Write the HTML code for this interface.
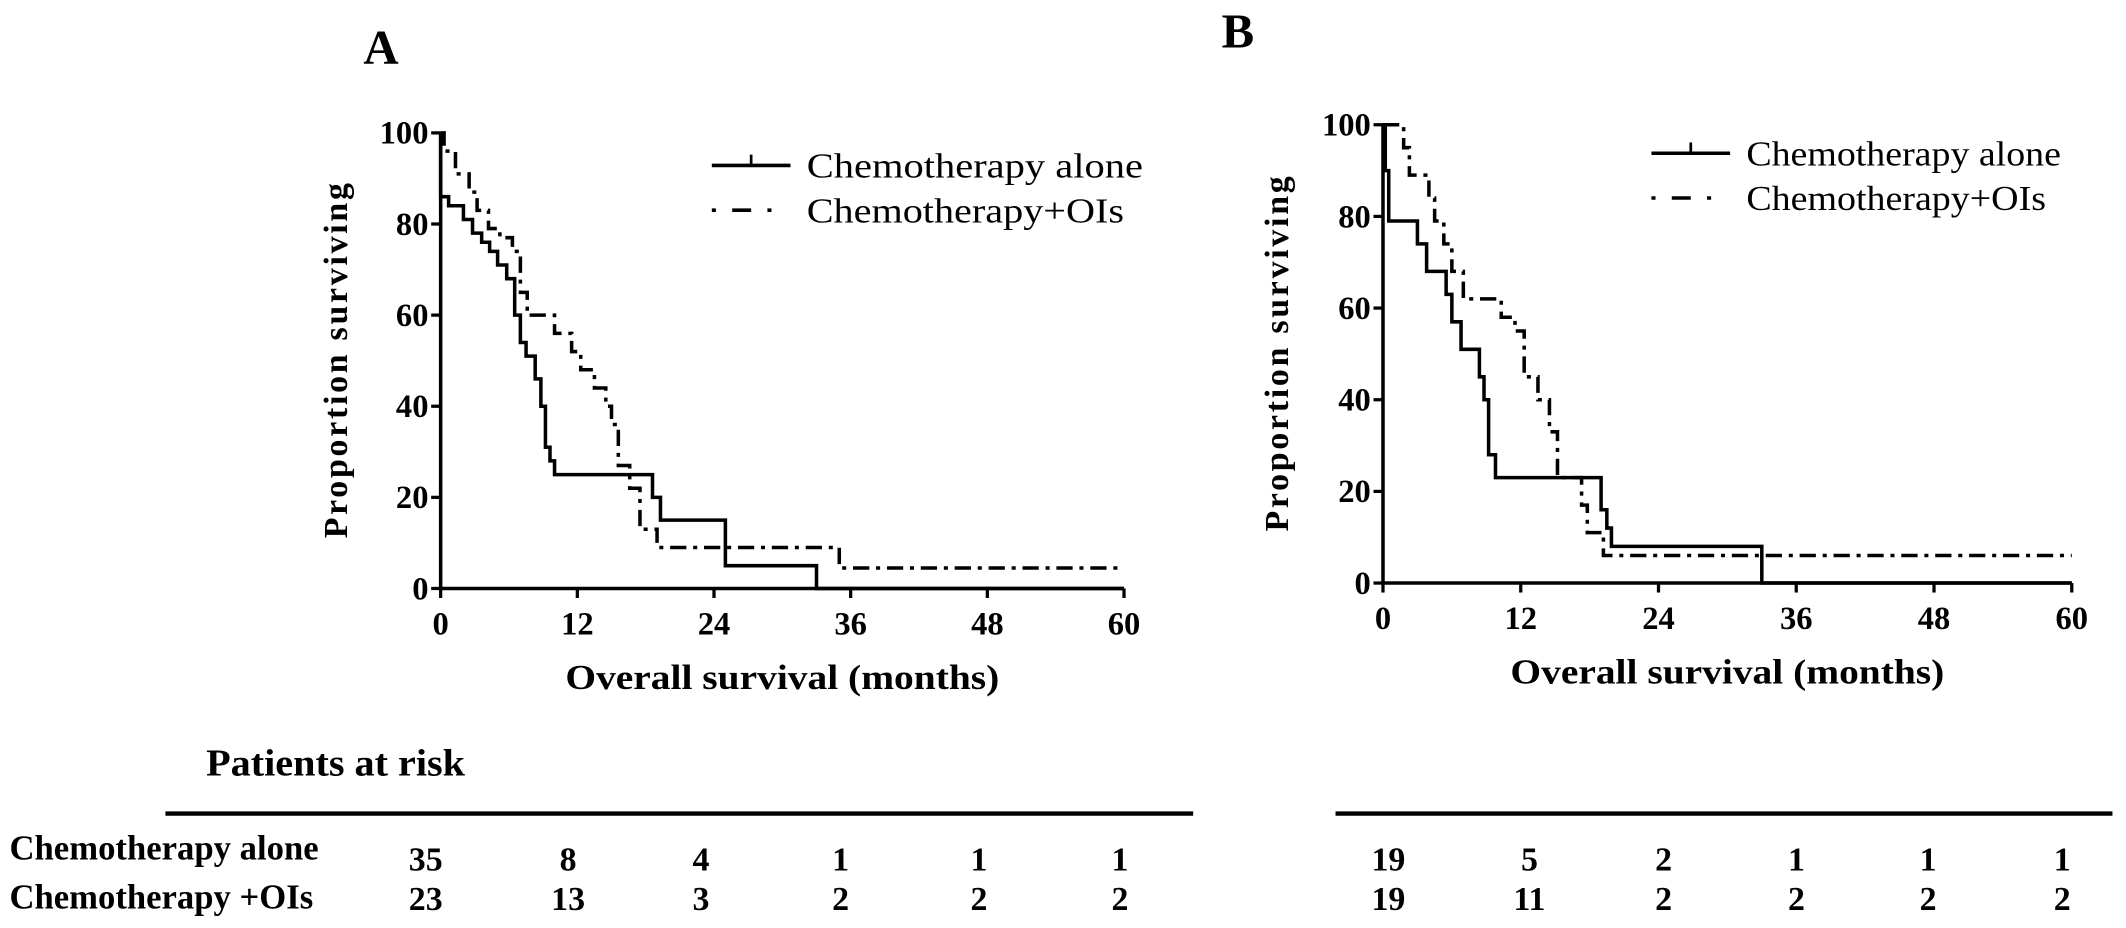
<!DOCTYPE html>
<html><head><meta charset="utf-8"><style>
html,body{margin:0;padding:0;background:#fff;}
svg{display:block;}
text{font-family:"Liberation Serif",serif;fill:#000;}
.b{font-weight:bold;}
</style></head><body>
<svg id="fig" width="2126" height="928" viewBox="0 0 1568 684.4" xmlns="http://www.w3.org/2000/svg">
<g id="root"></g>
</svg>
<script>
// Panel A data (months, percent surviving)
const aAloneT = [0,0.7,2,2.8,3.6,4.3,5,5.8,6.5,7,7.5,8.3,8.8,9.2,9.6,10,12.3,18.6,19.3,25,33];
const aAloneS = [100,86,84,81,78,76,74,71,68,60,54,51,46,40,31,28,25,25,20,15,5,0];
const aOIsT = [0.3,1.3,2.5,3.2,4.2,5.2,6.3,7,7.6,10,11.5,12.3,13.5,14.5,15,15.6,16.6,17.5,19,35];
const aOIsS = [100,96,91,87,83,79,77,74,65,60,56,52,48,44,40,36,27,22,13,9,4.5];
// Panel B data
const bAloneT = [0.2,0.5,3,3.8,5.5,6,6.8,8.4,8.8,9.2,9.8,19,19.5,19.9,33];
const bAloneS = [100,90,79,74,68,63,57,51,45,40,28,23,16,12,8,0];
const bOIsT = [1.8,2.3,4,4.5,5.3,6,7,10.3,11.5,12.3,13.5,14.5,15.2,17.3,17.8,19.2];
const bOIsS = [100,95,89,84,79,74,68,62,58,55,45,40,33,23,17,11,6];
const xTicks = [0,12,24,36,48,60];
const yTicks = [0,20,40,60,80,100];
const riskAloneA = [35,8,4,1,1,1];
const riskOIsA = [23,13,3,2,2,2];
const riskAloneB = [19,5,2,1,1,1];
const riskOIsB = [19,11,2,2,2,2];

const NS='http://www.w3.org/2000/svg';
const root=document.getElementById('root');
function mk(tag,attrs,parent){const e=document.createElementNS(NS,tag);for(const k in attrs)e.setAttribute(k,attrs[k]);(parent||root).appendChild(e);return e;}
function txt(s,attrs,parent){const e=mk('text',attrs,parent);e.textContent=s;return e;}

function panel(cfg){
  const g=mk('g',{});
  
  
  const sx=v=>cfg.x0+(cfg.x1-cfg.x0)*v/60;
  const sy=v=>cfg.y0+(cfg.y1-cfg.y0)*v/100;
  const ax=mk('path',{d:`M${sx(0)},${sy(100)} V${sy(0)} H${sx(60)}`,fill:'none',stroke:'#000','stroke-width':2.6},g);
  
  
  xTicks.forEach(t=>{
    mk('line',{x1:sx(t),x2:sx(t),y1:sy(0),y2:sy(0)+7,stroke:'#000','stroke-width':2.4},g);
    const l=txt(String(t),{x:sx(t),y:sy(0)+34,'text-anchor':'middle','font-size':24,class:'b'},g);
    
    
  });
  yTicks.forEach(t=>{
    mk('line',{x1:sx(0)-7,x2:sx(0),y1:sy(t),y2:sy(t),stroke:'#000','stroke-width':2.4},g);
    const l=txt(String(t),{x:sx(0)-9,y:sy(t)+8,'text-anchor':'end','font-size':24,class:'b'},g);
    
    
  });
  const xt=txt('Overall survival (months)',{x:(sx(0)+sx(60))/2,y:sy(0)+74,'text-anchor':'middle','font-size':26,class:'b',textLength:320,lengthAdjust:'spacingAndGlyphs'},g);
  
  
  const yc=(sy(0)+sy(100))/2;
  const yt=txt('Proportion surviving',{x:0,y:0,'text-anchor':'middle','font-size':25,class:'b',textLength:262,lengthAdjust:'spacing',transform:`translate(${cfg.ytx},${yc}) rotate(-90)`},g);
  
  
  function curve(T,S,dash,name){
    let d=`M${sx(0)},${sy(S[0])}`;
    for(let i=0;i<T.length;i++){d+=` H${sx(T[i])} V${sy(S[i+1])}`;}
    d+=` H${sx(60)}`;
    const p=mk('path',{d,fill:'none',stroke:'#000','stroke-width':2.6},g);
    if(dash)p.setAttribute('stroke-dasharray',dash);
    
    
  }
  curve(cfg.aT,cfg.aS,null,'curve-chemotherapy-alone');
  curve(cfg.oT,cfg.oS,'12,5,3,5','curve-chemotherapy-ois');
  const lg=mk('g',{},g);
  
  
  mk('line',{x1:cfg.lx,x2:cfg.lx+58,y1:cfg.ly,y2:cfg.ly,stroke:'#000','stroke-width':2.6},lg);
  mk('line',{x1:cfg.lx+29,x2:cfg.lx+29,y1:cfg.ly-8,y2:cfg.ly,stroke:'#000','stroke-width':2},lg);
  txt('Chemotherapy alone',{x:cfg.lx+70,y:cfg.ly+9,'font-size':26,textLength:cfg.lw1,lengthAdjust:'spacingAndGlyphs'},lg);
  mk('line',{x1:cfg.lx,x2:cfg.lx+58,y1:cfg.ly+33,y2:cfg.ly+33,stroke:'#000','stroke-width':2.6,'stroke-dasharray':'3,12,14,12,3,20'},lg);
  txt('Chemotherapy+OIs',{x:cfg.lx+70,y:cfg.ly+42,'font-size':26,textLength:cfg.lw2,lengthAdjust:'spacingAndGlyphs'},lg);
  const rg=mk('g',{},g);
  
  
  mk('line',{x1:cfg.rl0,x2:cfg.rl1,y1:600,y2:600,stroke:'#000','stroke-width':3.2},rg);
  cfg.r1.forEach((v,i)=>txt(String(v),{x:cfg.rx[i],y:642,'text-anchor':'middle','font-size':25,class:'b'},rg));
  cfg.r2.forEach((v,i)=>txt(String(v),{x:cfg.rx[i],y:671,'text-anchor':'middle','font-size':25,class:'b'},rg));
  const tl=txt(cfg.letter,{x:cfg.tx,y:cfg.ty,'font-size':36,class:'b'},g);
  
  
}
panel({name:'panel-a',letter:'A',tx:268,ty:47,x0:325,x1:829,y0:434,y1:98,ytx:256,lx:525,ly:122,lw1:248,lw2:234,
  aT:aAloneT,aS:aAloneS,oT:aOIsT,oS:aOIsS,rl0:122,rl1:880,r1:riskAloneA,r2:riskOIsA,rx:[314,419,517,620,722,826]});
panel({name:'panel-b',letter:'B',tx:901,ty:35,x0:1020,x1:1528,y0:430,y1:92,ytx:950,lx:1218,ly:113,lw1:232,lw2:221,
  aT:bAloneT,aS:bAloneS,oT:bOIsT,oS:bOIsS,rl0:985,rl1:1558,r1:riskAloneB,r2:riskOIsB,rx:[1024,1128,1227,1325,1422,1521]});
const pr=txt('Patients at risk',{x:152,y:572,'font-size':28,class:'b',textLength:191,lengthAdjust:'spacingAndGlyphs'});


const r1=txt('Chemotherapy alone',{x:7,y:634,'font-size':26,class:'b',textLength:228,lengthAdjust:'spacingAndGlyphs'});


const r2=txt('Chemotherapy +OIs',{x:7,y:670,'font-size':26,class:'b',textLength:224,lengthAdjust:'spacingAndGlyphs'});


</script>
</body></html>
